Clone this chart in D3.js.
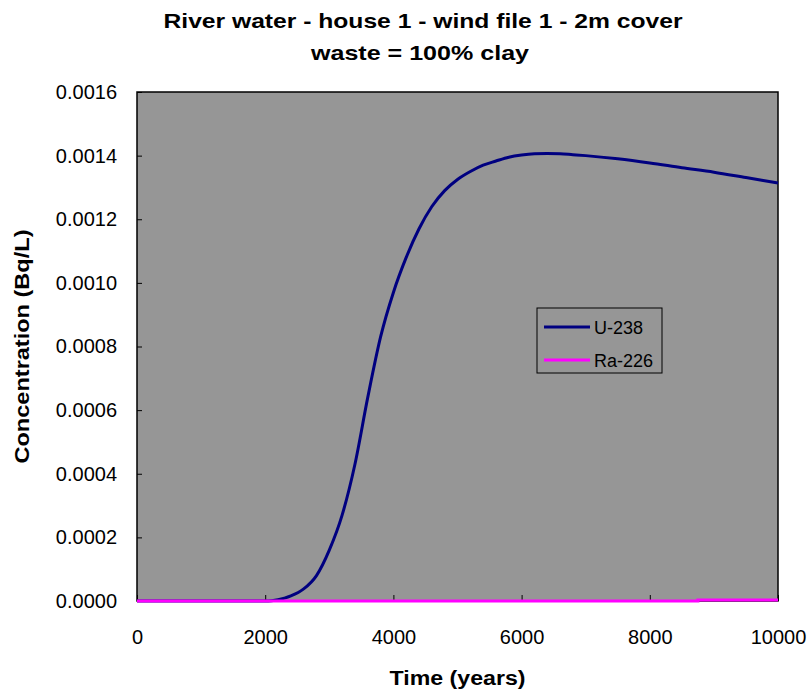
<!DOCTYPE html>
<html><head><meta charset="utf-8">
<script src="https://cdn.jsdelivr.net/npm/d3@7"></script>
<style>body{margin:0;background:#fff}svg{display:block}text{font-family:"Liberation Sans",Arial,sans-serif}</style>
</head><body>
<svg id="c" width="812" height="693"></svg>
<script>
const titleLines = ["River water - house 1 - wind file 1 - 2m cover", "waste = 100% clay"];
const xTitle = "Time (years)";
const yTitle = "Concentration (Bq/L)";
const xTicks = [0, 2000, 4000, 6000, 8000, 10000];
const yTicks = [0, 0.0002, 0.0004, 0.0006, 0.0008, 0.0010, 0.0012, 0.0014, 0.0016];
const seriesNames = ["U-238", "Ra-226"];
const years = [0, 2000, 2100, 2200, 2300, 2400, 2600, 2800, 3000, 3200, 3400, 3600, 3800, 4000, 4200, 4400, 4600, 4800, 5000, 5200, 5400, 5600, 5800, 6000, 6200, 6400, 6600, 6800, 7000, 7500, 8000, 8500, 9000, 9500, 10000];
const u238 = [0, 0, 0.000001, 0.000004, 0.000009, 0.000016, 0.000038, 0.000080, 0.00016, 0.00027, 0.00043, 0.00064, 0.00083, 0.00097, 0.00108, 0.00117, 0.00124, 0.00129, 0.001325, 0.00135, 0.00137, 0.001383, 0.001395, 0.001402, 0.001406, 0.001407, 0.001406, 0.001403, 0.001400, 0.001390, 0.001377, 0.001362, 0.001348, 0.001331, 0.001314];
const raYears = [0, 8700, 8750, 10000];
const ra226 = [0, 0, 0.000003, 0.000003];
const colors = ["#000080", "#FF00FF"];

const svg = d3.select("#c");
const L = 137, R = 778, T = 92, B = 601;
const x = d3.scaleLinear().domain([0, 10000]).range([L, R]);
const y = d3.scaleLinear().domain([0, 0.0016]).range([B, T]);

svg.append("rect").attr("x", L).attr("y", T).attr("width", R - L).attr("height", B - T)
  .attr("fill", "#969696").attr("stroke", "none");

const yAxis = d3.axisLeft(y).tickValues(yTicks).tickFormat(d3.format(".4f")).tickSizeInner(-5).tickSizeOuter(0).tickPadding(20);
const gy = svg.append("g").attr("transform", `translate(${L},0)`).call(yAxis);
gy.select(".domain").remove();
gy.selectAll("line").attr("stroke", "#000");
gy.selectAll("text").attr("font-size", 20).attr("fill", "#000").attr("font-family", "Liberation Sans, Arial, sans-serif");

const xAxis = d3.axisBottom(x).tickValues(xTicks).tickFormat(d3.format("d")).tickSizeInner(-6).tickSizeOuter(0).tickPadding(29);
const gx = svg.append("g").attr("transform", `translate(0,${B})`).call(xAxis);
gx.select(".domain").remove();
gx.selectAll("line").attr("stroke", "#000");
gx.selectAll("text").attr("font-size", 20).attr("fill", "#000").attr("font-family", "Liberation Sans, Arial, sans-serif");

svg.append("rect").attr("x", L).attr("y", T).attr("width", R - L).attr("height", B - T)
  .attr("fill", "none").attr("stroke", "#000").attr("stroke-width", 1.5);

const line = d3.line().x(d => x(d[0])).y(d => y(d[1])).curve(d3.curveMonotoneX);
svg.append("path").datum(years.map((t, i) => [t, u238[i]])).attr("d", line)
  .attr("fill", "none").attr("stroke", colors[0]).attr("stroke-width", 3);
svg.append("path").datum(raYears.map((t, i) => [t, ra226[i]])).attr("d", d3.line().x(d => x(d[0])).y(d => y(d[1])).curve(d3.curveStepAfter))
  .attr("fill", "none").attr("stroke", colors[1]).attr("stroke-width", 3);

const lg = svg.append("g").attr("transform", "translate(537,308)");
lg.append("rect").attr("width", 125).attr("height", 65).attr("fill", "#969696").attr("stroke", "#000").attr("stroke-width", 1);
seriesNames.forEach((n, i) => {
  const yy = 19 + i * 33;
  lg.append("line").attr("x1", 7).attr("x2", 53).attr("y1", yy).attr("y2", yy).attr("stroke", colors[i]).attr("stroke-width", 3);
  lg.append("text").attr("x", 57).attr("y", yy + 7).attr("font-size", 18).attr("fill", "#000").text(n);
});

svg.append("text").attr("x", 423).attr("y", 28).attr("text-anchor", "middle").attr("font-weight", "bold").attr("font-size", 21)
  .attr("textLength", 519).attr("lengthAdjust", "spacingAndGlyphs").text(titleLines[0]);
svg.append("text").attr("x", 420).attr("y", 60).attr("text-anchor", "middle").attr("font-weight", "bold").attr("font-size", 21)
  .attr("textLength", 218).attr("lengthAdjust", "spacingAndGlyphs").text(titleLines[1]);
svg.append("text").attr("x", (L + R) / 2).attr("y", 685).attr("text-anchor", "middle").attr("font-weight", "bold").attr("font-size", 20)
  .attr("textLength", 136).attr("lengthAdjust", "spacingAndGlyphs").text(xTitle);
svg.append("text").attr("transform", `translate(29,${(T + B) / 2}) rotate(-90)`).attr("text-anchor", "middle").attr("font-weight", "bold").attr("font-size", 20)
  .attr("textLength", 234).attr("lengthAdjust", "spacingAndGlyphs").text(yTitle);
</script>
</body></html>
